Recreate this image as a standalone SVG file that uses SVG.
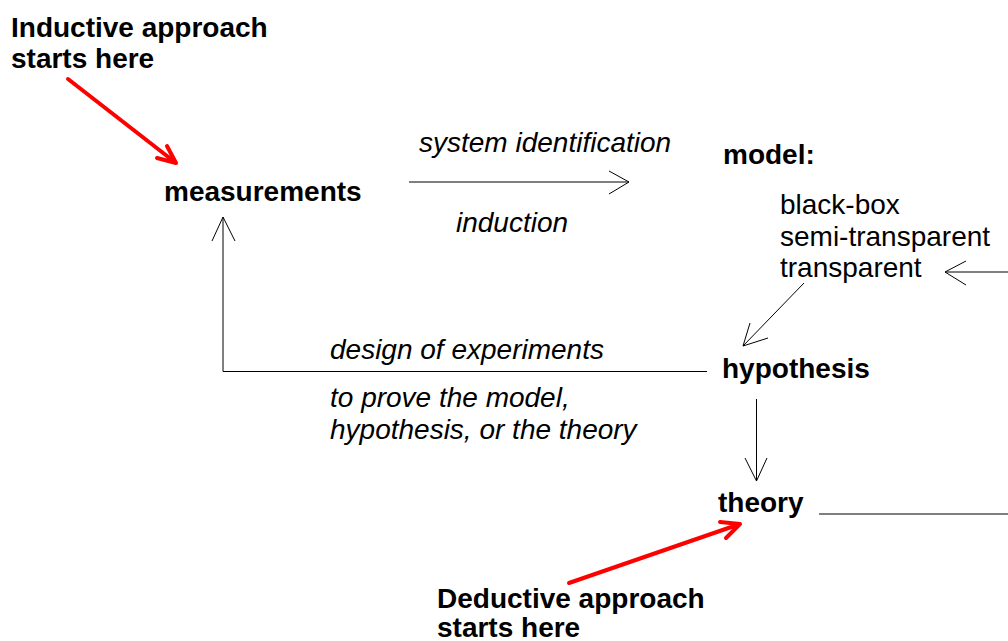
<svg xmlns="http://www.w3.org/2000/svg" width="1008" height="641" viewBox="0 0 1008 641">
<style>
text{font-family:"Liberation Sans",Arial,sans-serif;font-size:28px;fill:#000}
.b{font-weight:bold}
.i{font-style:italic}
.c{fill:none;stroke:#000;stroke-width:1}
.r{fill:none;stroke:#ff0000;stroke-width:4;stroke-linecap:round;stroke-linejoin:round}
</style>
<rect width="1008" height="641" fill="#fff"/>
<g id="connectors">
<path class="c" d="M409,182 H629 M609,171 L629,182 L609,194"/>
<path class="c" d="M1008,272 H945 M966,261 L945,272 L966,285"/>
<path class="c" d="M804,283 L743,346 M750,323 L743,346 L768,338"/>
<path class="c" d="M707,371.5 H223 V217 M212,241 L223,217 L235,241"/>
<path class="c" d="M756.5,399 V481 M745,458 L756.5,481 L767,458"/>
<path class="c" d="M819,514 H1008"/>
<path class="r" d="M68,79 L176,163 M157,158 L176,163 L167,146"/>
<path class="r" d="M569,583 L740,524 M726,538 L740,524 L720,522"/>
</g>
<g id="inductive-label"><text class="b" x="11" y="37">Inductive approach</text><text class="b" x="11" y="68">starts here</text></g>
<g id="measurements"><text class="b" x="164" y="201">measurements</text></g>
<g id="system-identification"><text class="i" x="419" y="152">system identification</text><text class="i" x="456" y="232">induction</text></g>
<g id="model"><text class="b" x="723" y="164">model:</text>
<text x="780" y="214">black-box</text><text x="780" y="246">semi-transparent</text><text x="780" y="277">transparent</text></g>
<g id="design"><text class="i" x="330" y="359">design of experiments</text><text class="i" x="330" y="407">to prove the model,</text><text class="i" x="330" y="439">hypothesis, or the theory</text></g>
<g id="hypothesis"><text class="b" x="722" y="378">hypothesis</text></g>
<g id="theory"><text class="b" x="718" y="512">theory</text></g>
<g id="deductive-label"><text class="b" x="437" y="608">Deductive approach</text><text class="b" x="437" y="637">starts here</text></g>
</svg>
